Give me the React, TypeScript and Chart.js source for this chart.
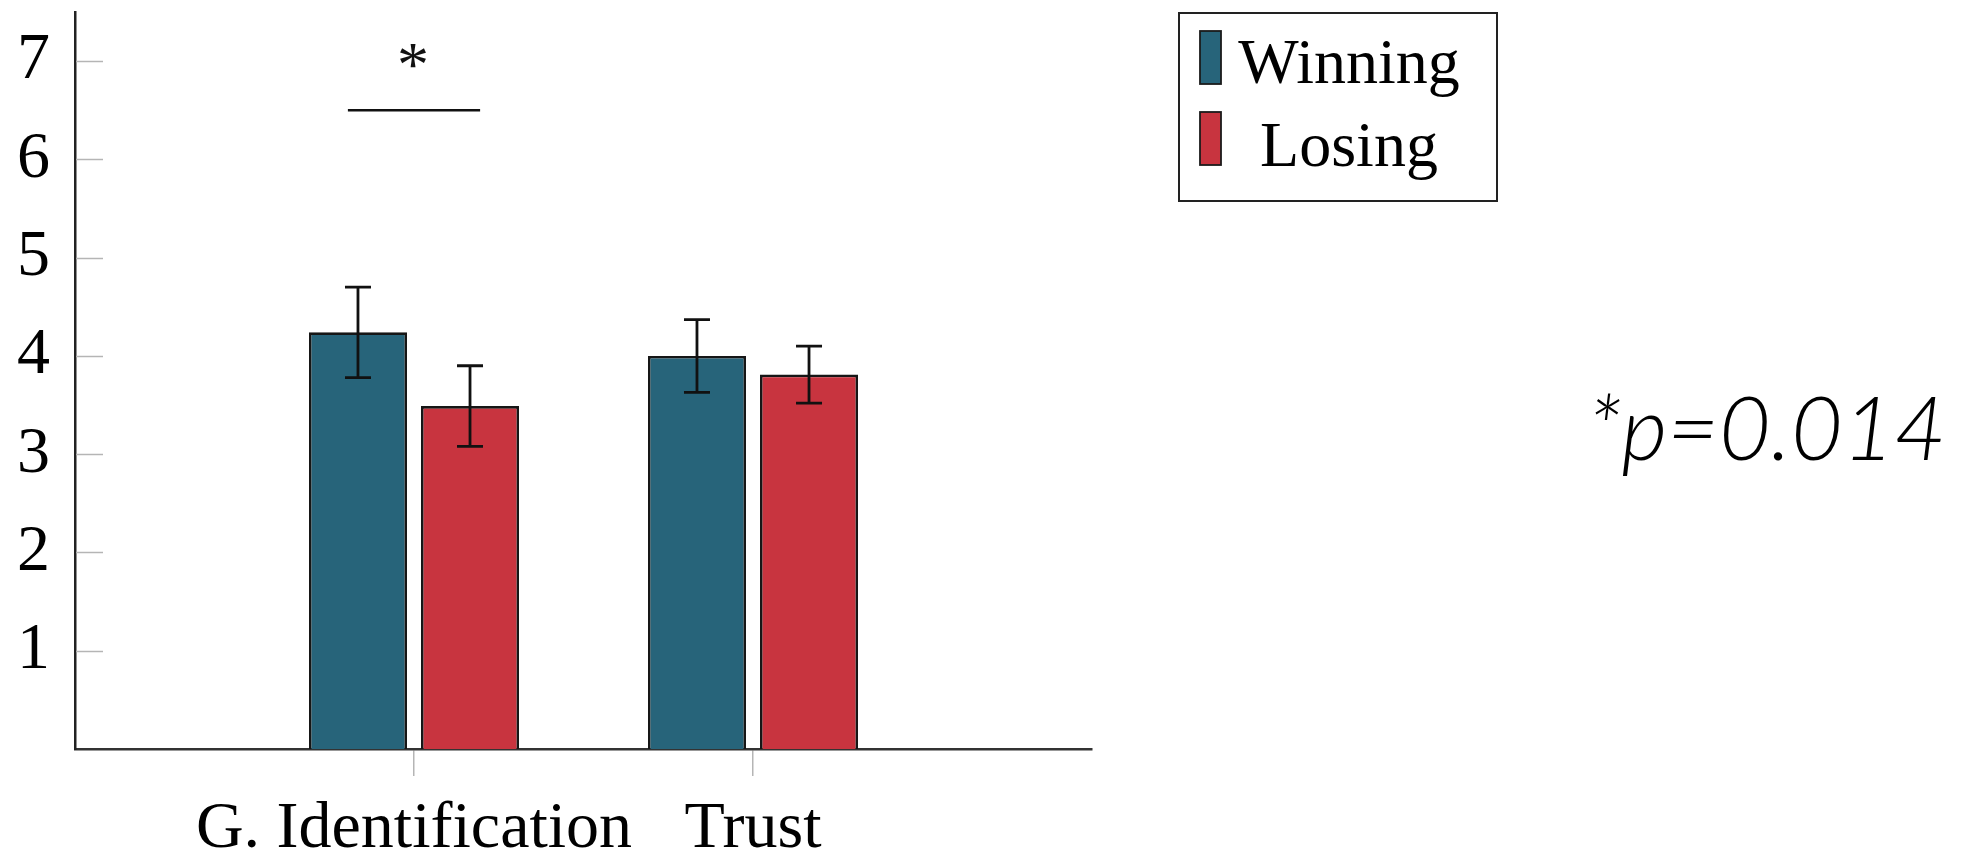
import React, { useEffect, useRef } from "react";
import { Chart, registerables } from "chart.js";

Chart.register(...registerables);

// ---- data ----
const categories = ["", "G. Identification", "Trust", ""];
const seriesLabels = ["Winning", "Losing"];
const winningMeans = [null, 4.24, 4.0, null];
const winningErrors = [null, 0.46, 0.37, null];
const losingMeans = [null, 3.49, 3.81, null];
const losingErrors = [null, 0.41, 0.29, null];
const yTickValues = [1, 2, 3, 4, 5, 6, 7];
const yMin = 0;
const yMax = 7.5;
const sigCategory = "G. Identification";
const sigLevel = 6.5;
const sigMark = "*";
const pValueNote = "*p=0.014";

const BLUE = "#27647A";
const RED = "#C8343F";
const SERIF = '"Liberation Serif", "DejaVu Serif", serif';

const errorBars = [winningErrors, losingErrors];

const errorBarPlugin = {
  id: "errorBars",
  afterDatasetsDraw(chart: any) {
    const ctx = chart.ctx;
    const y = chart.scales.y;
    ctx.save();
    ctx.strokeStyle = "#111";
    ctx.lineWidth = 2.8;
    chart.data.datasets.forEach((ds: any, di: number) => {
      const meta = chart.getDatasetMeta(di);
      meta.data.forEach((bar: any, i: number) => {
        const v = ds.data[i];
        const e = errorBars[di][i];
        if (v == null || e == null) return;
        const top = y.getPixelForValue(v + e);
        const bot = y.getPixelForValue(v - e);
        const cap = 13;
        ctx.beginPath();
        ctx.moveTo(bar.x, top);
        ctx.lineTo(bar.x, bot);
        ctx.moveTo(bar.x - cap, top);
        ctx.lineTo(bar.x + cap, top);
        ctx.moveTo(bar.x - cap, bot);
        ctx.lineTo(bar.x + cap, bot);
        ctx.stroke();
      });
    });
    ctx.restore();
  },
};

const decorPlugin = {
  id: "decor",
  afterDraw(chart: any) {
    const ctx = chart.ctx;
    const xs = chart.scales.x;
    const ys = chart.scales.y;
    const area = chart.chartArea;
    ctx.save();

    // inner y tick marks
    ctx.strokeStyle = "#b5b5b5";
    ctx.lineWidth = 1.5;
    yTickValues.forEach((v) => {
      const py = Math.round(ys.getPixelForValue(v)) + 0.5;
      ctx.beginPath();
      ctx.moveTo(area.left + 1, py);
      ctx.lineTo(area.left + 28, py);
      ctx.stroke();
    });

    // significance bracket
    const ci = categories.indexOf(sigCategory);
    const xc = xs.getPixelForValue(ci);
    const half = (xs.getPixelForValue(ci + 1) - xc) * 0.195;
    const ly = ys.getPixelForValue(sigLevel);
    ctx.strokeStyle = "#111";
    ctx.lineWidth = 2.7;
    ctx.beginPath();
    ctx.moveTo(xc - half, ly);
    ctx.lineTo(xc + half, ly);
    ctx.stroke();
    ctx.fillStyle = "#111";
    ctx.font = `64px ${SERIF}`;
    ctx.textAlign = "center";
    ctx.textBaseline = "alphabetic";
    ctx.fillText(sigMark, xc - 1, ly - 24);

    // legend box
    const lx = 1179, ly0 = 13, lw = 318, lh = 188;
    ctx.strokeStyle = "#222";
    ctx.lineWidth = 2;
    ctx.strokeRect(lx, ly0, lw, lh);
    ctx.font = `64px ${SERIF}`;
    ctx.textAlign = "center";
    chart.data.datasets.forEach((ds: any, di: number) => {
      const sy = 31 + di * 81;
      ctx.fillStyle = ds.backgroundColor;
      ctx.fillRect(1200, sy, 21, 53);
      ctx.strokeStyle = "#1b1b1b";
      ctx.lineWidth = 1.8;
      ctx.strokeRect(1200, sy, 21, 53);
      ctx.fillStyle = "#000";
      ctx.fillText(ds.label, 1349, 83 + di * 83);
    });

    // p-value note (light italic sans, fitted to the reference's width)
    ctx.fillStyle = "#000";
    ctx.textAlign = "left";
    ctx.font = 'italic 300 89px Lato, "Liberation Sans", sans-serif';
    const w = ctx.measureText(pValueNote).width;
    const target = 359;
    ctx.translate(1587, 460);
    ctx.scale(target / w, 1);
    ctx.fillText(pValueNote, 0, 0);
    ctx.restore();
  },
};

export default function App() {
  const ref = useRef<HTMLCanvasElement | null>(null);

  useEffect(() => {
    if (!ref.current) return;
    const chart = new Chart(ref.current, {
      type: "bar",
      data: {
        labels: categories,
        datasets: [
          {
            label: seriesLabels[0],
            data: winningMeans,
            backgroundColor: BLUE,
            borderColor: "#161616",
            borderWidth: 2.6,
          },
          {
            label: seriesLabels[1],
            data: losingMeans,
            backgroundColor: RED,
            borderColor: "#161616",
            borderWidth: 2.6,
          },
        ],
      },
      options: {
        responsive: false,
        animation: false,
        devicePixelRatio: 1,
        layout: { padding: { top: 12, right: 871, bottom: 0, left: 0 } },
        datasets: {
          bar: { categoryPercentage: 0.661, barPercentage: 0.875 },
        },
        plugins: {
          legend: { display: false },
          tooltip: { enabled: false },
          title: { display: false },
        },
        scales: {
          x: {
            type: "category",
            offset: false,
            grid: {
              offset: false,
              drawOnChartArea: false,
              drawTicks: true,
              tickLength: 27,
              lineWidth: 1.5,
              color: (c: any) =>
                categories[c.index] ? "#b5b5b5" : "rgba(0,0,0,0)",
            },
            border: { display: true, color: "#333", width: 2.5 },
            ticks: {
              autoSkip: false,
              maxRotation: 0,
              minRotation: 0,
              padding: 14,
              color: "#000",
              font: { family: SERIF, size: 66 },
            },
            afterFit: (s: any) => {
              s.height = 101;
              s.paddingLeft = 0;
              s.paddingRight = 0;
            },
          },
          y: {
            min: yMin,
            max: yMax,
            grid: { display: false, drawTicks: false },
            border: { display: true, color: "#222", width: 2.5 },
            ticks: {
              stepSize: 1,
              includeBounds: false,
              padding: 25,
              color: "#000",
              font: { family: SERIF, size: 66 },
              callback: (v: any) => (yTickValues.includes(Number(v)) ? String(v) : ""),
            },
            afterFit: (s: any) => {
              s.width = 75;
              s.paddingTop = 0;
              s.paddingBottom = 0;
            },
          },
        },
      },
      plugins: [errorBarPlugin, decorPlugin],
    });
    return () => chart.destroy();
  }, []);

  return (
    <div style={{ position: "absolute", left: 0, top: 0, width: 1963, height: 850, background: "#fff" }}>
      <canvas ref={ref} width={1963} height={850} style={{ display: "block" }} />
    </div>
  );
}
